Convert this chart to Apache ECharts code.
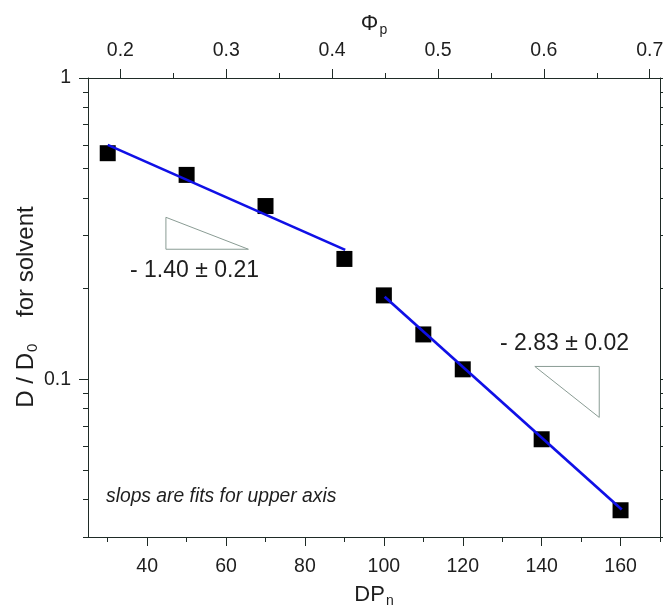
<!DOCTYPE html>
<html><head><meta charset="utf-8">
<script src="https://cdn.jsdelivr.net/npm/echarts@6/dist/echarts.min.js"></script>
<style>html,body{margin:0;padding:0;background:#fff}#c{width:663px;height:610px}</style>
</head><body><div id="c"></div>
<script>
// ---- data ----
const dpN = [30, 50, 70, 90, 100, 110, 120, 140, 160];
const dRatio = [0.563, 0.477, 0.376, 0.251, 0.190, 0.141, 0.108, 0.0633, 0.0368];
const fitLowX = [30, 90.2];
const fitLowY = [0.600, 0.269];
const fitHighX = [100.2, 160.3];
const fitHighY = [0.188, 0.037];
const triLowX = [44.75, 44.75, 65.66, 44.75];
const triLowY = [0.345, 0.2703, 0.2703, 0.345];
const triHighX = [138.27, 154.6, 154.6, 138.27];
const triHighY = [0.1104, 0.1104, 0.0748, 0.1104];
const dpRange = [25, 170];
const phiRange = [0.1694, 0.7097];
const yRange = [0.03, 1];
const dpTicks = [40, 60, 80, 100, 120, 140, 160];
const dpMinorTicks = [30, 50, 70, 90, 110, 130, 150, 170];
const phiTicks = [0.2, 0.3, 0.4, 0.5, 0.6, 0.7];
const phiMinorTicks = [0.25, 0.35, 0.45, 0.55, 0.65];
const yMajorTicks = [0.1, 1];
const yMinorTicks = [0.03, 0.04, 0.05, 0.06, 0.07, 0.08, 0.09, 0.2, 0.3, 0.4, 0.5, 0.6, 0.7, 0.8, 0.9];
const slopeLow = '- 1.40 ± 0.21';
const slopeHigh = '- 2.83 ± 0.02';
const noteText = 'slops are fits for upper axis';

// ---- chart ----
const FF = '"Liberation Sans", Arial, sans-serif';
const AX = '#1f2b26';
const TXT = '#1e1e1e';
const pairs = (xs, ys) => xs.map((x, i) => [x, ys[i]]);
const lg = v => Math.log10(v);

function tickOnly(pos, min, max, vals, len, showLine) {
  return {
    type: 'value', position: pos, min: min, max: max,
    axisLine: { show: !!showLine, onZero: false, lineStyle: { color: AX, width: 1 } },
    axisTick: { show: true, inside: false, length: len, customValues: vals, lineStyle: { color: AX, width: 1 } },
    axisLabel: { show: false },
    splitLine: { show: false }
  };
}

const chart = echarts.init(document.getElementById('c'), null, { renderer: 'canvas' });
chart.setOption({
  animation: false,
  backgroundColor: '#fff',
  grid: { left: 88, right: 3, top: 78, bottom: 73, outerBoundsMode: 'none', containLabel: false },
  xAxis: [
    {
      type: 'value', position: 'bottom', min: dpRange[0], max: dpRange[1],
      axisLine: { show: true, onZero: false, lineStyle: { color: AX, width: 1 } },
      axisTick: { show: true, length: 9, customValues: dpTicks, lineStyle: { color: AX } },
      axisLabel: { customValues: dpTicks, fontSize: 19.5, fontFamily: FF, color: TXT, margin: 20 },
      splitLine: { show: false }
    },
    tickOnly('bottom', dpRange[0], dpRange[1], dpMinorTicks, 5, false),
    {
      type: 'value', position: 'top', min: phiRange[0], max: phiRange[1],
      axisLine: { show: true, onZero: false, lineStyle: { color: AX, width: 1 } },
      axisTick: { show: true, length: 9, customValues: phiTicks, lineStyle: { color: AX } },
      axisLabel: { customValues: phiTicks, fontSize: 19.5, fontFamily: FF, color: TXT, margin: 17,
                   formatter: v => v.toFixed(1) },
      splitLine: { show: false }
    },
    tickOnly('top', phiRange[0], phiRange[1], phiMinorTicks, 5, false)
  ],
  yAxis: [
    {
      type: 'log', logBase: 10, position: 'left', min: yRange[0], max: yRange[1],
      axisLine: { show: true, onZero: false, lineStyle: { color: AX, width: 1 } },
      axisTick: { show: false },
      axisLabel: { fontSize: 19.5, fontFamily: FF, color: TXT, margin: 17,
        formatter: v => { const l = Math.log10(v); return Math.abs(l - Math.round(l)) < 1e-6 ? String(+v.toPrecision(3)) : ''; } },
      splitLine: { show: false }, minorTick: { show: false }, minorSplitLine: { show: false }
    },
    tickOnly('left', lg(yRange[0]), lg(yRange[1]), yMajorTicks.map(lg), 9, false),
    tickOnly('left', lg(yRange[0]), lg(yRange[1]), yMinorTicks.map(lg), 5, false),
    tickOnly('right', lg(yRange[0]), lg(yRange[1]), yMajorTicks.concat(yMinorTicks).map(lg), 5, true)
  ],
  series: [
    { type: 'scatter', xAxisIndex: 0, yAxisIndex: 0, data: pairs(dpN, dRatio),
      symbol: 'rect', symbolSize: 16, itemStyle: { color: '#000', opacity: 1 }, z: 2 },
    { type: 'line', xAxisIndex: 0, yAxisIndex: 0, data: pairs(fitLowX, fitLowY),
      symbol: 'none', lineStyle: { color: '#1010e6', width: 2.7 }, z: 3 },
    { type: 'line', xAxisIndex: 0, yAxisIndex: 0, data: pairs(fitHighX, fitHighY),
      symbol: 'none', lineStyle: { color: '#1010e6', width: 2.7 }, z: 3 },
    { type: 'line', xAxisIndex: 0, yAxisIndex: 0, data: pairs(triLowX, triLowY),
      symbol: 'none', lineStyle: { color: '#8a9c94', width: 1 }, z: 1 },
    { type: 'line', xAxisIndex: 0, yAxisIndex: 0, data: pairs(triHighX, triHighY),
      symbol: 'none', lineStyle: { color: '#8a9c94', width: 1 }, z: 1 }
  ],
  graphic: [
    { type: 'text', x: 374, y: 24, style: {
        text: '{a|Φ}{s|p}', align: 'center', verticalAlign: 'middle',
        rich: { a: { fontSize: 22, fontFamily: FF, fill: TXT }, s: { fontSize: 14, fontFamily: FF, fill: TXT, padding: [13, 0, 0, 1] } } } },
    { type: 'text', x: 374, y: 595, style: {
        text: '{a|DP}{s|n}', align: 'center', verticalAlign: 'middle',
        rich: { a: { fontSize: 22, fontFamily: FF, fill: TXT }, s: { fontSize: 14, fontFamily: FF, fill: TXT, padding: [13, 0, 0, 1] } } } },
    { type: 'text', x: 26, y: 307, rotation: Math.PI / 2, style: {
        text: '{a|D / D}{s|0}{a|    for solvent}', align: 'center', verticalAlign: 'middle',
        rich: { a: { fontSize: 24, fontFamily: FF, fill: TXT }, s: { fontSize: 15, fontFamily: FF, fill: TXT, padding: [13, 0, 0, 1] } } } },
    { type: 'text', x: 130, y: 271, style: { text: slopeLow, font: '23px ' + FF, fill: TXT, align: 'left', verticalAlign: 'middle' } },
    { type: 'text', x: 500, y: 344, style: { text: slopeHigh, font: '23px ' + FF, fill: TXT, align: 'left', verticalAlign: 'middle' } },
    { type: 'text', x: 106, y: 497, style: { text: noteText, font: 'italic 19.3px ' + FF, fill: TXT, align: 'left', verticalAlign: 'middle' } }
  ]
});
</script>
</body></html>
